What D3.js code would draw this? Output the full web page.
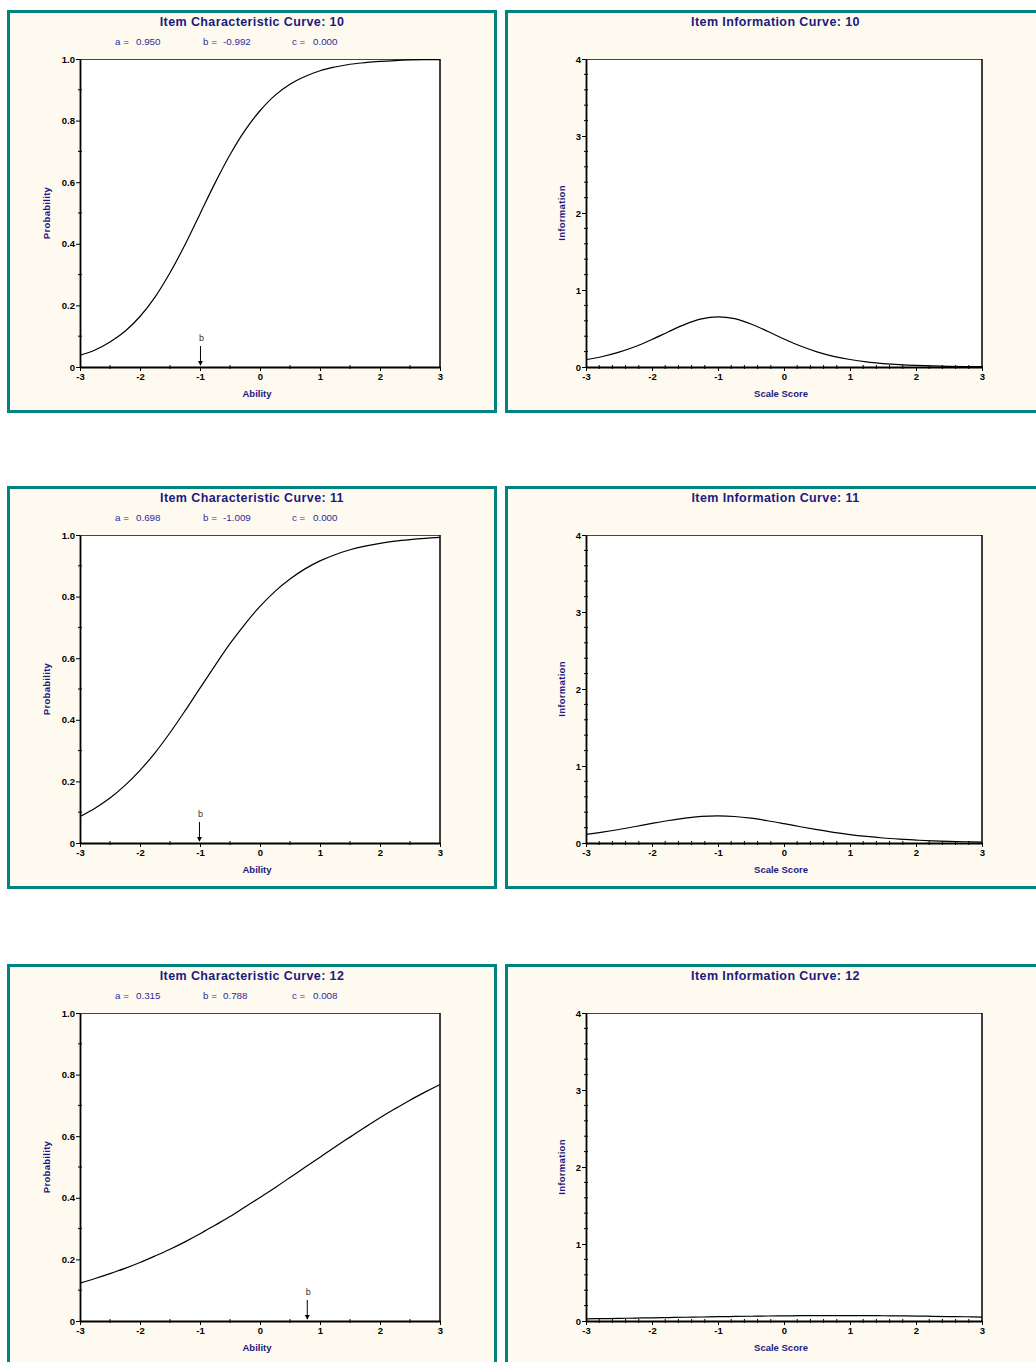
<!DOCTYPE html>
<html>
<head>
<meta charset="utf-8">
<script src="https://cdn.jsdelivr.net/npm/d3@7"></script>
<style>
  body { margin: 0; background: #fff; }
  text { font-family: "Liberation Sans", Arial, sans-serif; }
</style>
</head>
<body>
<div id="chart"></div>
<script>
// item parameters
const items = ['10', '11', '12'];
const aParams = ['0.950', '0.698', '0.315'];
const bParams = ['-0.992', '-1.009', '0.788'];
const cParams = ['0.000', '0.000', '0.008'];
const bValues = [-0.992, -1.009, 0.788];

// ability points the curves are read at
const theta = [-3, -2.75, -2.5, -2.25, -2, -1.75, -1.5, -1.25, -1, -0.75, -0.5, -0.25, 0,
  0.25, 0.5, 0.75, 1, 1.25, 1.5, 1.75, 2, 2.25, 2.5, 2.75, 3];

// item characteristic curves (probability)
const icc10 = [0.038, 0.055, 0.081, 0.116, 0.164, 0.227, 0.306, 0.397, 0.497, 0.597, 0.689, 0.768, 0.832,
  0.882, 0.918, 0.943, 0.962, 0.974, 0.983, 0.988, 0.992, 0.995, 0.997, 0.998, 0.998];
const icc11 = [0.086, 0.113, 0.146, 0.187, 0.236, 0.293, 0.358, 0.429, 0.503, 0.576, 0.647, 0.711, 0.768,
  0.817, 0.857, 0.890, 0.916, 0.936, 0.952, 0.964, 0.973, 0.980, 0.985, 0.989, 0.992];
const icc12 = [0.123, 0.138, 0.154, 0.171, 0.190, 0.211, 0.233, 0.257, 0.283, 0.311, 0.339, 0.370, 0.401,
  0.433, 0.466, 0.499, 0.532, 0.565, 0.597, 0.629, 0.660, 0.689, 0.717, 0.743, 0.768];

// item information curves
const iic10 = [0.094, 0.136, 0.193, 0.267, 0.358, 0.458, 0.554, 0.625, 0.652, 0.628, 0.559, 0.465, 0.364,
  0.272, 0.197, 0.139, 0.097, 0.066, 0.045, 0.030, 0.020, 0.014, 0.009, 0.006, 0.004];
const iic11 = [0.111, 0.141, 0.175, 0.214, 0.254, 0.292, 0.324, 0.345, 0.352, 0.344, 0.322, 0.289, 0.251,
  0.211, 0.173, 0.138, 0.109, 0.085, 0.065, 0.050, 0.038, 0.028, 0.021, 0.016, 0.012];
const iic12 = [0.028, 0.031, 0.034, 0.038, 0.041, 0.045, 0.049, 0.052, 0.056, 0.059, 0.062, 0.065, 0.067,
  0.069, 0.070, 0.071, 0.070, 0.070, 0.068, 0.066, 0.064, 0.061, 0.058, 0.055, 0.051];

const iccSeries = [icc10, icc11, icc12];
const iicSeries = [iic10, iic11, iic12];

const probTicks = [0, 0.2, 0.4, 0.6, 0.8, 1.0];
const infoTicks = [0, 1, 2, 3, 4];
const xTicks = [-3, -2, -1, 0, 1, 2, 3];

const width = 1036;
const height = 1362;
const rowTops = [10, 486, 964];

const teal = '#008480';
const panelFill = '#fffaef';
const titleColor = '#1a1a80';
const paramColor = '#2b2ba0';

const svg = d3.select('#chart')
  .append('svg')
  .attr('width', width)
  .attr('height', height);

svg.append('rect').attr('width', width).attr('height', height).attr('fill', '#fff');

svg.append('defs').append('marker')
  .attr('id', 'arrow')
  .attr('viewBox', '0 0 6 6')
  .attr('refX', 5).attr('refY', 3)
  .attr('markerWidth', 5).attr('markerHeight', 5)
  .attr('orient', 'auto')
  .append('path')
  .attr('d', 'M0,0 L6,3 L0,6 Z')
  .attr('fill', '#000');

function drawPanel(opts) {
  const g = svg.append('g');
  const top = opts.top;

  // panel box
  g.append('rect')
    .attr('x', opts.px0 + 1.5).attr('y', top + 1.5)
    .attr('width', opts.px1 - opts.px0 - 3).attr('height', 400)
    .attr('fill', panelFill)
    .attr('stroke', teal).attr('stroke-width', 3);

  const x = d3.scaleLinear().domain([-3, 3]).range([opts.x0, opts.x1]);
  const y = d3.scaleLinear().domain(opts.yDomain).range([top + 357, top + 49]);

  // plot frame
  g.append('rect')
    .attr('x', opts.x0).attr('y', top + 49)
    .attr('width', opts.x1 - opts.x0).attr('height', 308)
    .attr('fill', '#fff');
  g.append('line')
    .attr('x1', opts.x0).attr('x2', opts.x1)
    .attr('y1', top + 49.5).attr('y2', top + 49.5)
    .attr('stroke', '#444').attr('stroke-width', 1);
  g.append('line')
    .attr('x1', opts.x1).attr('x2', opts.x1)
    .attr('y1', top + 49).attr('y2', top + 357)
    .attr('stroke', '#000').attr('stroke-width', 1.5);

  // minor ticks
  g.append('g').selectAll('line')
    .data(opts.xMinor)
    .join('line')
      .attr('x1', d => x(d)).attr('x2', d => x(d))
      .attr('y1', top + 355).attr('y2', top + 359)
      .attr('stroke', '#000').attr('stroke-width', 1);
  g.append('g').selectAll('line')
    .data(opts.yMinor)
    .join('line')
      .attr('x1', opts.x0 - 2).attr('x2', opts.x0 + 2)
      .attr('y1', d => y(d)).attr('y2', d => y(d))
      .attr('stroke', '#000').attr('stroke-width', 1);

  // axes
  const xAxis = g.append('g')
    .attr('transform', `translate(0,${top + 357})`)
    .call(d3.axisBottom(x).tickValues(xTicks).tickFormat(d => String(d))
      .tickSizeInner(4).tickSizeOuter(0).tickPadding(2));
  const yAxis = g.append('g')
    .attr('transform', `translate(${opts.x0},0)`)
    .call(d3.axisLeft(y).tickValues(opts.yTicks).tickFormat(opts.yFormat)
      .tickSizeInner(4).tickSizeOuter(0).tickPadding(1));
  [xAxis, yAxis].forEach(a => {
    a.select('.domain').attr('stroke-width', 1.8);
    a.selectAll('text')
      .attr('font-size', '9.5px').attr('font-weight', 'bold')
      .attr('font-family', '"Liberation Sans", Arial, sans-serif')
      .attr('fill', '#000');
  });

  // curve
  const line = d3.line()
    .x((d, i) => x(theta[i]))
    .y(d => y(d))
    .curve(d3.curveCatmullRom.alpha(0.5));
  g.append('path')
    .datum(opts.values)
    .attr('d', line)
    .attr('fill', 'none')
    .attr('stroke', '#000')
    .attr('stroke-width', 1.2);

  // titles
  g.append('text')
    .attr('x', (opts.px0 + opts.px1) / 2).attr('y', top + 15.5)
    .attr('text-anchor', 'middle')
    .attr('font-size', '12.5px').attr('font-weight', 'bold')
    .attr('letter-spacing', '0.4px')
    .attr('fill', titleColor)
    .text(opts.title);

  g.append('text')
    .attr('x', (opts.x0 + opts.x1) / 2 - 3).attr('y', top + 387)
    .attr('text-anchor', 'middle')
    .attr('font-size', '9.5px').attr('font-weight', 'bold')
    .attr('fill', titleColor)
    .text(opts.xLabel);

  g.append('text')
    .attr('transform', `translate(${opts.yLabelX},${top + 203}) rotate(-90)`)
    .attr('text-anchor', 'middle')
    .attr('font-size', '9.5px').attr('font-weight', 'bold')
    .attr('letter-spacing', '0.3px')
    .attr('fill', titleColor)
    .text(opts.yLabel);

  return { g, x, y };
}

items.forEach((item, k) => {
  const top = rowTops[k];

  // item characteristic curve
  const left = drawPanel({
    top, px0: 7, px1: 497, x0: 80, x1: 440,
    yDomain: [0, 1], yTicks: probTicks,
    yFormat: d => d === 0 ? '0' : d.toFixed(1),
    xMinor: d3.range(-2.5, 3, 1),
    yMinor: [0.1, 0.3, 0.5, 0.7, 0.9],
    values: iccSeries[k],
    title: 'Item Characteristic Curve: ' + item,
    xLabel: 'Ability', yLabel: 'Probability', yLabelX: 50
  });

  // parameter line
  const params = [['a =', aParams[k], 115, 136], ['b =', bParams[k], 203, 223], ['c =', cParams[k], 292, 313]];
  params.forEach(p => {
    left.g.append('text')
      .attr('x', p[2]).attr('y', top + 35)
      .attr('font-size', '9.8px').attr('fill', paramColor)
      .text(p[0]);
    left.g.append('text')
      .attr('x', p[3]).attr('y', top + 35)
      .attr('font-size', '9.8px').attr('fill', paramColor)
      .text(p[1]);
  });

  // b marker
  const bx = left.x(bValues[k]);
  left.g.append('text')
    .attr('x', bx + 1).attr('y', top + 331)
    .attr('text-anchor', 'middle')
    .attr('font-size', '9px').attr('fill', '#333')
    .text('b');
  left.g.append('line')
    .attr('x1', bx).attr('x2', bx)
    .attr('y1', top + 336).attr('y2', top + 355)
    .attr('stroke', '#000').attr('stroke-width', 1)
    .attr('marker-end', 'url(#arrow)');

  // item information curve
  drawPanel({
    top, px0: 505, px1: 1046, x0: 586, x1: 982,
    yDomain: [0, 4], yTicks: infoTicks,
    yFormat: d => String(d),
    xMinor: d3.range(-2.8, 3, 0.2).filter(d => Math.abs(d - Math.round(d)) > 0.05),
    yMinor: d3.range(0.2, 4, 0.2).filter(d => Math.abs(d - Math.round(d)) > 0.05),
    values: iicSeries[k],
    title: 'Item Information Curve: ' + item,
    xLabel: 'Scale Score', yLabel: 'Information', yLabelX: 565
  });
});
</script>
</body>
</html>
